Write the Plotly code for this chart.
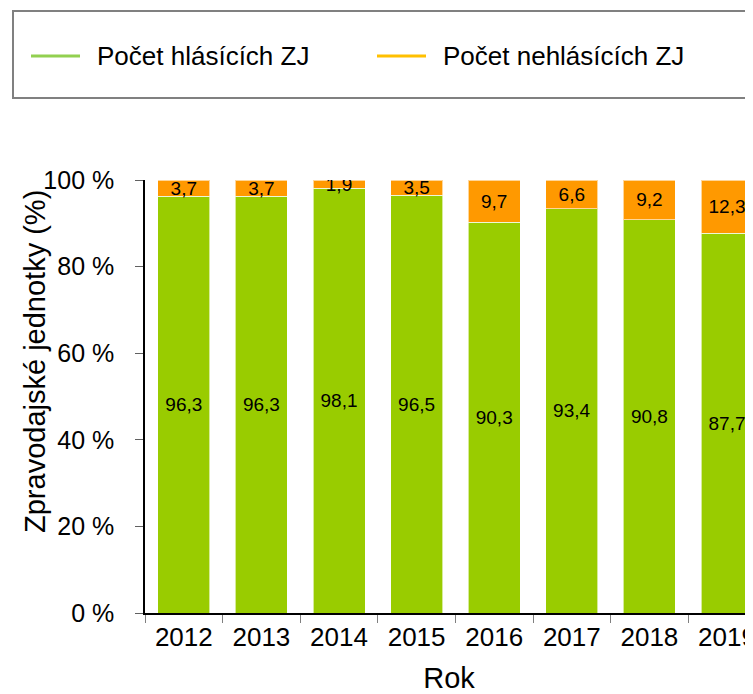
import plotly.graph_objects as go

# data
YEARS = ["2012", "2013", "2014", "2015", "2016", "2017", "2018", "2019"]
REPORTING = [96.3, 96.3, 98.1, 96.5, 90.3, 93.4, 90.8, 87.7]
NON_REPORTING = [3.7, 3.7, 1.9, 3.5, 9.7, 6.6, 9.2, 12.3]
NAMES = ["Počet hlásících ZJ", "Počet nehlásících ZJ"]
Y_TICKS = [0, 20, 40, 60, 80, 100]

FONT = "Arial, Liberation Sans, sans-serif"
GREEN, ORANGE = "#99CC00", "#FF9900"
LEG_GREEN, LEG_ORANGE = "#92D050", "#FFC000"

# the page body adds 8px around the figure, so work in window pixels and shift
OFF = 8
W, H = 753 - OFF, 694 - OFF
L, T, B = 145 - OFF, 180 - OFF, 81      # plot area in window px: x 145..753, y 180..613


def px(x):   # window pixel -> paper x
    return (x - OFF - L) / (W - L)


def py(y):   # window pixel -> paper y
    return (H - B - (y - OFF)) / (H - B - T)


fig = go.Figure()
for vals, col in [(REPORTING, GREEN), (NON_REPORTING, ORANGE)]:
    fig.add_trace(go.Bar(
        x=YEARS, y=vals, width=0.67,
        marker=dict(color=col, line=dict(color="rgba(255,255,255,0.6)", width=1)),
        texttemplate="%{y:.1f}", textposition="inside", insidetextanchor="middle",
        textangle=0, constraintext="none",
        textfont=dict(size=19, color="black", family=FONT),
        showlegend=False, hoverinfo="skip",
    ))

# legend box, drawn by hand so the keys are long lines like the original
fig.add_shape(type="rect", xref="paper", yref="paper",
              x0=px(13), x1=px(770), y0=py(98), y1=py(11),
              line=dict(color="#808080", width=2), fillcolor="rgba(0,0,0,0)")
for name, col, x_line in zip(NAMES, [LEG_GREEN, LEG_ORANGE], [31, 377]):
    fig.add_shape(type="line", xref="paper", yref="paper",
                  x0=px(x_line), x1=px(x_line + 49), y0=py(56), y1=py(56),
                  line=dict(color=col, width=3))
    fig.add_annotation(text=name, xref="paper", yref="paper",
                       x=px(x_line + 64), y=py(56), xanchor="left", yanchor="middle",
                       showarrow=False, font=dict(size=26, family=FONT, color="black"))

# y axis title
fig.add_annotation(text="Zpravodajské jednotky (%)", xref="paper", yref="paper",
                   x=px(35), y=py(362), xanchor="center", yanchor="middle",
                   textangle=-90, showarrow=False,
                   font=dict(size=29, family=FONT, color="black"))

fig.update_layout(
    barmode="stack", separators=", ",
    width=W, height=H,
    margin=dict(l=L, r=0, t=T, b=B),
    paper_bgcolor="white", plot_bgcolor="white",
    font=dict(family=FONT, color="black"),
    showlegend=False,
    xaxis=dict(
        range=[-0.5, 7.335], automargin=False,
        showline=True, linecolor="black", linewidth=1.5,
        ticks="outside", tickson="boundaries", ticklen=8, tickcolor="#808080",
        tickfont=dict(size=26), ticklabelstandoff=0,
        title=dict(text="Rok", font=dict(size=29), standoff=20),
        showgrid=False,
    ),
    yaxis=dict(
        range=[0, 100], automargin=False,
        tickmode="array", tickvals=Y_TICKS, ticktext=[f"{v} %" for v in Y_TICKS],
        showline=True, linecolor="black", linewidth=1.5,
        ticks="outside", ticklen=8, tickcolor="#606060",
        tickfont=dict(size=25), ticklabelstandoff=16,
        showgrid=False, zeroline=False,
    ),
)

fig.write_html("out.html")
